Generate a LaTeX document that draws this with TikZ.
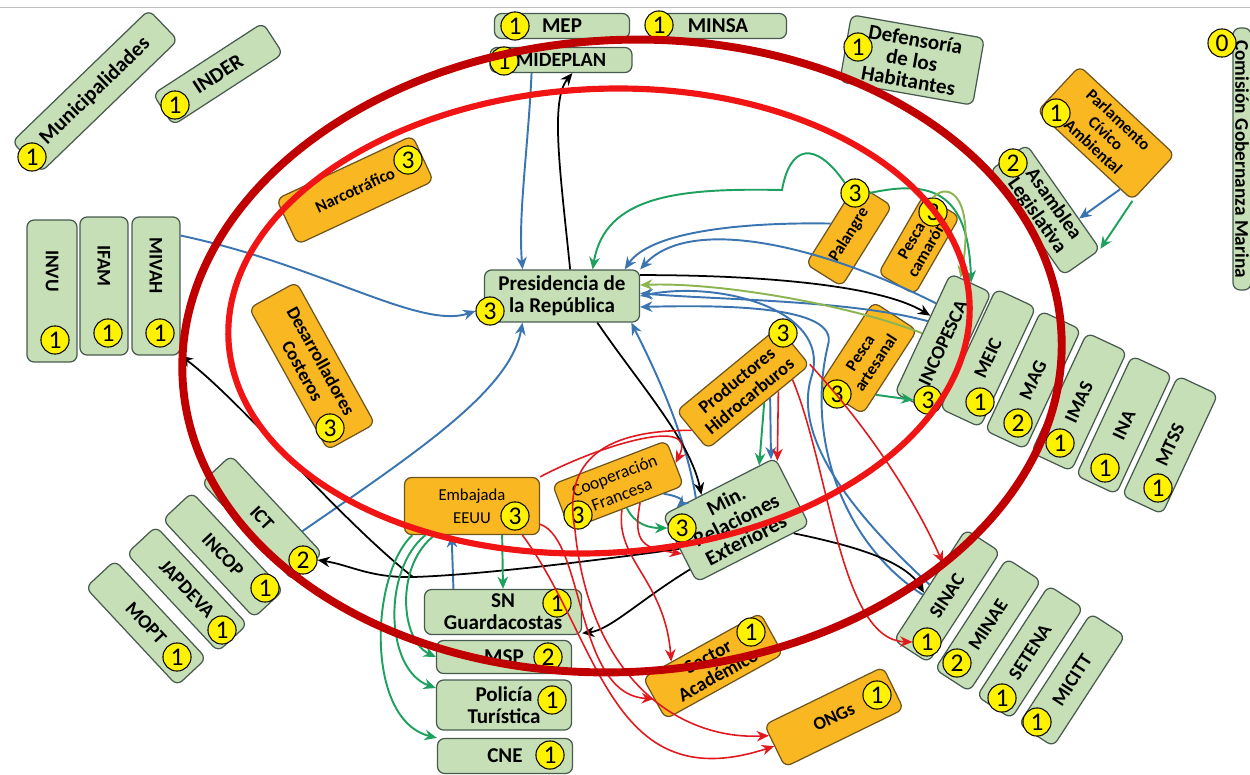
\documentclass[tikz,border=0pt]{standalone}
\usepackage{fontspec}
\setmainfont{Carlito}
\usetikzlibrary{arrows.meta}
\definecolor{actgreen}{RGB}{198,223,183}
\definecolor{actline}{RGB}{70,90,78}
\definecolor{actorange}{RGB}{249,183,34}
\definecolor{orline}{RGB}{110,85,30}
\definecolor{arblue}{RGB}{58,117,178}
\definecolor{argreen}{RGB}{30,160,95}
\definecolor{arolive}{RGB}{140,180,80}
\definecolor{arred}{RGB}{225,25,30}
\definecolor{ringdark}{RGB}{192,0,0}
\definecolor{ringred}{RGB}{240,20,20}
\tikzset{
  gbox/.style={draw=actline, fill=actgreen, line width=0.7pt, rounded corners=4pt,
    align=center, inner sep=1pt, font=\bfseries\fontsize{12}{12.5}\selectfont},
  fanbox/.style={gbox, font=\bfseries\fontsize{11}{12}\selectfont},
  obox/.style={gbox, draw=orline, fill=actorange},
  badge/.style={circle, draw=black, fill=yellow, line width=0.6pt, inner sep=0pt,
    minimum size=16pt, font=\fontsize{14.5}{14.5}\selectfont},
  bluearr/.style={draw=arblue, line width=1.1pt, -{Stealth[length=7pt,width=6pt]}},
  greenarr/.style={bluearr, draw=argreen},
  olivearr/.style={bluearr, draw=arolive},
  blackarr/.style={bluearr, draw=black, line width=1pt},
  redarr/.style={bluearr, draw=arred, line width=0.9pt},
}
\begin{document}
\begin{tikzpicture}[x=0.02cm, y=-0.02cm]
  \useasboundingbox (0,0) rectangle (1250,774);
  \draw[gray!50, line width=0.5pt] (0,7) -- (1250,7);

  % actores de arriba
  \node[gbox, rotate=44, minimum width=3.8cm, minimum height=0.84cm] (muni) at (95,91) {Municipalidades};
  \node[badge] (bmuni) at (32,157) {1};
  \node[gbox, rotate=33, minimum width=2.62cm, minimum height=0.74cm] (inder) at (218,74) {INDER};
  \node[badge] (binder) at (175,105) {1};
  \node[gbox, minimum width=2.7cm, minimum height=0.5cm] (mep) at (562,26) {MEP};
  \node[badge] (bmep) at (515,26) {1};
  \node[gbox, minimum width=2.74cm, minimum height=0.5cm] (minsa) at (718,26) {MINSA};
  \node[badge] (bminsa) at (659,25) {1};
  \node[gbox, minimum width=2.84cm, minimum height=0.5cm, font=\bfseries\fontsize{11.5}{12}\selectfont] (mideplan) at (561,60) {MIDEPLAN};
  \node[badge] (bmideplan) at (504,61) {1};
  \node[gbox, rotate=-10, minimum width=2.7cm, minimum height=1.36cm, font=\bfseries\fontsize{12}{12}\selectfont] (defensoria) at (912,60) {Defensoría\\de los\\Habitantes};
  \node[badge] (bdefensoria) at (858,47) {1};
  \node[gbox, rotate=-90, minimum width=5.24cm, minimum height=0.36cm, inner sep=0pt, font=\bfseries\fontsize{11}{11}\selectfont] (comision) at (1242,159) {Comisión Gobernanza Marina};
  \node[badge] (bcomision) at (1222,43) {0};
  \node[obox, rotate=-43, minimum width=2.6cm, minimum height=1.24cm, font=\bfseries\fontsize{9.5}{10.5}\selectfont] (parlamento) at (1106,133) {Parlamento\\Cívico\\Ambiental};
  \node[badge] (bparlamento) at (1056,113) {1};
  \node[gbox, rotate=-55, minimum width=2.56cm, minimum height=0.9cm, font=\bfseries\fontsize{11.5}{11.5}\selectfont] (asamblea) at (1045,210) {Asamblea\\Legislativa};
  \node[badge] (basamblea) at (1013,163) {2};

  % izquierda
  \node[obox, rotate=25, minimum width=3cm, minimum height=1cm, font=\bfseries\fontsize{9.5}{10}\selectfont] (narco) at (355,190) {Narcotráfico};
  \node[badge] (bnarco) at (408,160) {3};
  \node[fanbox, rotate=-90, minimum width=2.84cm, minimum height=1cm] (invu) at (52,291) {INVU\hspace*{0.8cm}};
  \node[badge] (binvu) at (55,340) {1};
  \node[fanbox, rotate=-90, minimum width=2.76cm, minimum height=0.96cm] (ifam) at (104,286) {IFAM\hspace*{0.8cm}};
  \node[badge] (bifam) at (108,333) {1};
  \node[fanbox, rotate=-90, minimum width=2.76cm, minimum height=0.96cm] (mivah) at (156,286) {MIVAH\hspace*{0.8cm}};
  \node[badge] (bmivah) at (160,333) {1};
  \node[obox, rotate=-61, minimum width=3.24cm, minimum height=1.08cm, font=\bfseries\fontsize{10.5}{12}\selectfont] (desarr) at (312,366) {Desarrolladores\\Costeros};
  \node[badge] (bdesarr) at (330,428) {3};

  % centro
  \node[gbox, minimum width=3.1cm, minimum height=1.04cm] (pres) at (562,296) {Presidencia de\\la República};
  \node[badge] (bpres) at (490,311) {3};
  \node[obox, rotate=58, minimum width=1.9cm, minimum height=0.84cm, font=\bfseries\fontsize{9.5}{10}\selectfont] (palangre) at (849,235) {Palangre};
  \node[badge] (bpalangre) at (855,193) {3};
  \node[obox, rotate=60, minimum width=1.8cm, minimum height=0.84cm, font=\bfseries\fontsize{9.5}{10}\selectfont] (pescacam) at (919,245) {Pesca\\camarón};
  \node[badge] (bpescacam) at (933,212) {3};
  \node[obox, rotate=57, minimum width=2cm, minimum height=1.04cm, font=\bfseries\fontsize{9.5}{10.5}\selectfont] (pescaart) at (868,358) {Pesca\\artesanal};
  \node[badge] (bpescaart) at (837,394) {3};
  \node[obox, rotate=39.5, minimum width=2.64cm, minimum height=0.98cm, font=\bfseries\fontsize{10.5}{11.5}\selectfont] (hidro) at (743,388) {Productores\\Hidrocarburos};
  \node[badge] (bhidro) at (783,333) {3};

  % derecha
  \node[fanbox, rotate=65, minimum width=2.64cm, minimum height=0.9cm] (incopesca) at (943,343) {INCOPESCA};
  \node[badge] (bincopesca) at (928,400) {3};
  \node[fanbox, rotate=65, minimum width=2.64cm, minimum height=0.88cm] (meic) at (988,358) {MEIC};
  \node[badge] (bmeic) at (980,402) {1};
  \node[fanbox, rotate=65, minimum width=2.64cm, minimum height=0.88cm] (mag) at (1033,380) {MAG};
  \node[badge] (bmag) at (1018,423) {2};
  \node[fanbox, rotate=65, minimum width=2.64cm, minimum height=0.88cm] (imas) at (1079,402) {IMAS};
  \node[badge] (bimas) at (1060,443) {1};
  \node[fanbox, rotate=65, minimum width=2.64cm, minimum height=0.88cm] (ina) at (1124,425) {INA};
  \node[badge] (bina) at (1105,468) {1};
  \node[fanbox, rotate=65, minimum width=2.64cm, minimum height=0.88cm] (mtss) at (1170,445) {MTSS};
  \node[badge] (bmtss) at (1158,488) {1};

  % abajo izquierda
  \node[fanbox, rotate=-47, minimum width=2.68cm, minimum height=0.8cm] (ict) at (262,518) {ICT};
  \node[badge] (bict) at (303,560) {2};
  \node[fanbox, rotate=-47, minimum width=2.68cm, minimum height=0.8cm] (incop) at (223,555) {INCOP};
  \node[badge] (bincop) at (265,588) {1};
  \node[fanbox, rotate=-47, minimum width=2.68cm, minimum height=0.8cm] (japdeva) at (187,589) {JAPDEVA};
  \node[badge] (bjapdeva) at (222,630) {1};
  \node[fanbox, rotate=-47, minimum width=2.68cm, minimum height=0.8cm] (mopt) at (146,623) {MOPT};
  \node[badge] (bmopt) at (177,657) {1};

  % abajo centro
  \node[obox, minimum width=2.7cm, minimum height=1.14cm, font=\fontsize{9.5}{13}\selectfont] (embajada) at (472,506) {Embajada\\EEUU};
  \node[badge] (bembajada) at (515,516) {3};
  \node[gbox, minimum width=3.14cm, minimum height=0.9cm] (sng) at (503,612) {SN\\Guardacostas};
  \node[badge] (bsng) at (557,603) {1};
  \node[gbox, minimum width=2.7cm, minimum height=0.66cm] (msp) at (504,657) {MSP};
  \node[badge] (bmsp) at (548,657) {2};
  \node[gbox, minimum width=2.7cm, minimum height=1cm] (policia) at (504,705) {Policía\\Turística};
  \node[badge] (bpolicia) at (552,700) {1};
  \node[gbox, minimum width=2.7cm, minimum height=0.7cm] (cne) at (505,756) {CNE};
  \node[badge] (bcne) at (550,755) {1};
  \node[obox, rotate=21, minimum width=2.44cm, minimum height=0.96cm, font=\fontsize{10}{11.5}\selectfont] (coop) at (618,485) {Cooperación\\Francesa};
  \node[badge] (bcoop) at (578,515) {3};
  \node[gbox, rotate=27, minimum width=2.52cm, minimum height=1.5cm] (minre) at (736,520) {Min.\\Relaciones\\Exteriores};
  \node[badge] (bminre) at (682,528) {3};
  \node[obox, rotate=29, minimum width=2.68cm, minimum height=0.94cm, font=\bfseries\fontsize{11}{12}\selectfont] (academico) at (713,666) {Sector\\Académico};
  \node[badge] (bacademico) at (751,632) {1};
  \node[obox, rotate=26, minimum width=2.64cm, minimum height=0.94cm, font=\bfseries\fontsize{10.5}{12}\selectfont] (ongs) at (834,717) {ONGs};
  \node[badge] (bongs) at (877,695) {1};

  % abajo derecha
  \node[fanbox, rotate=57, minimum width=2.64cm, minimum height=0.82cm] (sinac) at (947,596) {SINAC};
  \node[badge] (bsinac) at (927,642) {1};
  \node[fanbox, rotate=57, minimum width=2.64cm, minimum height=0.82cm] (minae) at (988,625) {MINAE};
  \node[badge] (bminae) at (957,663) {2};
  \node[fanbox, rotate=57, minimum width=2.64cm, minimum height=0.82cm] (setena) at (1030,652) {SETENA};
  \node[badge] (bsetena) at (1002,698) {1};
  \node[fanbox, rotate=57, minimum width=2.64cm, minimum height=0.82cm] (micitt) at (1072,680) {MICITT};
  \node[badge] (bmicitt) at (1037,722) {1};

  % flechas azules
  \draw[bluearr] (mideplan.204) .. controls (528,150) and (518,215) .. (pres.146);
  \draw[bluearr] (mivah.154) .. controls (320,265) and (420,330) .. (bpres.west);
  \draw[bluearr] (ict.29) .. controls (420,450) and (510,390) .. (pres.214);
  \draw[bluearr] (palangre.north) .. controls (740,222) and (650,232) .. (pres.23);
  \draw[bluearr] (incopesca.35) .. controls (820,245) and (690,215) .. (pres.north east);
  \draw[bluearr] (incopesca.60) .. controls (850,300) and (720,300) .. (pres.2);
  \draw[bluearr] (sinac.north) .. controls (860,520) and (790,440) .. (812,375) .. controls (830,310) and (720,280) .. (pres.east);
  \draw[bluearr] (sinac.120) .. controls (845,545) and (805,440) .. (828,345) .. controls (840,305) and (720,305) .. (pres.352);
  \draw[bluearr] (minre.124) .. controls (685,430) and (650,360) .. (pres.339);
  \draw[bluearr] (hidro.300) -- (minre.33);
  \draw[bluearr] (coop.328) .. controls (675,495) and (685,500) .. (minre.141);
  \draw[bluearr] (sng.155) -- (embajada.235);
  \draw[bluearr] (parlamento.327) -- (asamblea.41);

  % flechas negras
  \draw[blackarr] (pres.73) .. controls (560,170) and (550,100) .. (mideplan.311);
  \draw[blackarr] (pres.323) .. controls (640,385) and (690,440) .. (minre.117);
  \draw[blackarr] (pres.15) .. controls (760,275) and (880,285) .. (incopesca.50);
  \coordinate (fork) at (413,577);
  \draw[blackarr] (minre.west) .. controls (600,560) and (480,575) .. (fork) .. controls (370,578) and (350,565) .. (bict.east);
  \draw[blackarr] (fork) .. controls (340,520) and (240,400) .. (mivah.north east);
  \draw[blackarr] (minre.200) .. controls (640,600) and (610,630) .. (sng.345);
  \draw[blackarr] (minre.320) .. controls (850,545) and (905,560) .. (sinac.115);

  % flechas verdes
  \draw[greenarr] (bpalangre.north west) .. controls (815,140) and (790,145) .. (782,190) .. controls (680,188) and (605,195) .. (pres.41);
  \draw[greenarr] (bpalangre.east) .. controls (930,180) and (968,190) .. (incopesca.east);
  \draw[olivearr] (bpescacam.north) .. controls (950,180) and (975,200) .. (incopesca.10);
  \draw[olivearr] (incopesca.north) .. controls (850,305) and (720,282) .. (pres.8);
  \draw[greenarr] (pescaart.225) -- (bincopesca.west);
  \draw[greenarr] (hidro.285) -- (minre.40);
  \draw[greenarr] (coop.270) .. controls (635,525) and (650,528) .. (bminre.west);
  \draw[greenarr] (embajada.316) -- (sng.north);
  \draw[greenarr] (embajada.206) .. controls (370,575) and (365,720) .. (cne.north west);
  \draw[greenarr] (embajada.212) .. controls (382,570) and (385,670) .. (policia.166);
  \draw[greenarr] (embajada.218) .. controls (395,565) and (400,640) .. (msp.west);
  \draw[greenarr] (parlamento.south east) -- (asamblea.20);

  % flechas rojas
  \draw[redarr] (hidro.315) -- (minre.28);
  \draw[redarr] (embajada.345) .. controls (585,540) and (575,695) .. (academico.west);
  \draw[redarr] (embajada.330) .. controls (600,640) and (610,800) .. (ongs.west);
  \draw[redarr] (hidro.west) .. controls (620,430) and (560,450) .. (575,530) .. controls (590,680) and (680,740) .. (ongs.170);
  \draw[redarr] (coop.258) .. controls (615,560) and (665,580) .. (academico.145);
  \draw[redarr] (coop.300) .. controls (632,545) and (645,548) .. (minre.185);
  \draw[redarr] (hidro.340) .. controls (870,430) and (915,500) .. (sinac.40);
  \draw[redarr] (hidro.330) .. controls (830,470) and (840,640) .. (bsinac.west);
  \draw[redarr] (embajada.north east) .. controls (600,445) and (700,415) .. (coop.east);

  % anillos
  \draw[ringdark, line width=4.5pt, rotate around={3:(622,356)}] (622,356) ellipse [x radius=440, y radius=316];
  \draw[ringred, line width=3.5pt, rotate around={3:(599,321)}] (599,321) ellipse [x radius=371, y radius=232];
\end{tikzpicture}
\end{document}
